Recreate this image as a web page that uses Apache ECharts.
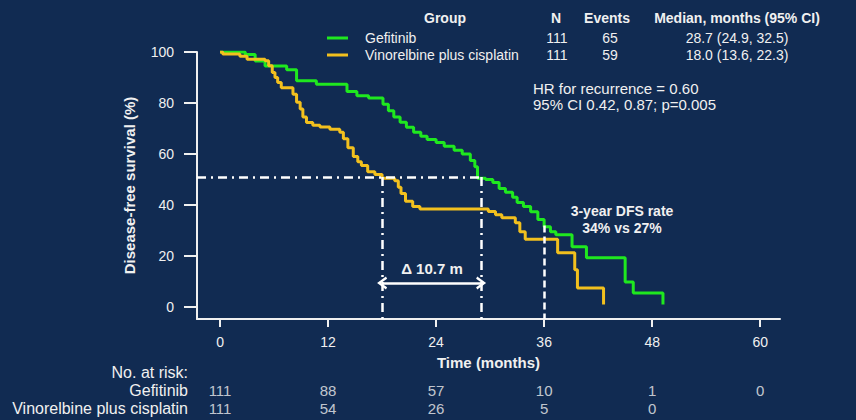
<!DOCTYPE html>
<html><head><meta charset="utf-8">
<script src="https://cdn.jsdelivr.net/npm/echarts@6/dist/echarts.min.js"></script>
<style>html,body{margin:0;padding:0;background:#112b52;}#c{width:856px;height:420px;}</style>
</head><body><div id="c"></div>
<script>
// Kaplan-Meier curves (months, % disease-free)
const gefTimes = [0,2.8,3.9,5.0,7.4,8.5,10.7,14.1,15.2,16.5,18.1,18.7,19.3,20.0,20.7,21.5,22.3,23.0,24.0,24.9,26.0,26.9,27.8,28.3,28.6,29.5,30.3,31.0,31.7,32.5,33.0,33.7,34.5,35.3,36.0,36.7,37.3,39.1,40.7,45.0,45.9,49.2];
const gefSurv  = [100,99,96.5,94.5,93,88.7,87.4,84.5,82.8,82,79.5,77,74.5,72.5,70.5,68.5,67,65.7,64.5,63,61.5,60,57.5,55,50.5,50,48.8,46.5,45,43,41,39.4,37.4,34.3,31.5,29.5,28.3,23.6,19.3,9.8,5.5,1];
const vinTimes = [0,0.3,2.2,3.0,5.0,5.4,5.8,6.1,6.4,6.8,8.1,8.5,8.9,9.2,9.6,10.3,11.1,12.2,13.3,13.7,14.2,14.8,15.3,15.7,16.4,17.2,18.0,19.4,19.8,20.1,20.6,21.4,22.2,29.8,30.6,31.3,32.8,33.3,33.9,37.5,39.4,39.7,42.6];
const vinSurv  = [100,99.2,98.3,97.2,96.6,94.6,92,90,88,86,83.4,80.3,77.6,74.5,72.4,71.3,70.6,69.7,68.5,66,62.5,59,57,55.5,53,52,50.5,49.5,47,44.5,41.5,39.4,38.4,37.5,36.2,35,33,29.5,26.6,21.3,14.6,7.5,1];

const xTicks = [0,12,24,36,48,60];
const yTicks = [0,20,40,60,80,100];

// header table
const groupNames = ['Gefitinib','Vinorelbine plus cisplatin'];
const groupN = [111,111];
const groupEvents = [65,59];
const groupMedian = ['28.7 (24.9, 32.5)','18.0 (13.6, 22.3)'];

// number at risk
const riskTimes = [0,12,24,36,48,60];
const riskGef = [111,88,57,10,1,0];
const riskVin = [111,54,26,5,0];

// reference lines
const medianLevel = 51;          // horizontal dash-dot level
const medianTimes = [18.0, 29.0]; // vertical dash-dot lines (as drawn)
const threeYear = 36;
const threeYearTop = 32;
const arrowLevel = 9.4;

const xMin = -2.56, xMax = 62.2, yMin = -4.7, yMax = 100;
const BG = '#112b52', TXT = '#f0f0f0', GREEN = '#1fe81f', YELLOW = '#f2c01e';
const FONT = '"Liberation Sans", Arial, sans-serif';

const chart = echarts.init(document.getElementById('c'), null, {renderer:'svg'});
const zip = (a,b) => a.map((t,i)=>[t,b[i]]);
const refStyle = {color:'#ffffff', width:2.5, type:[9,5,2,5]};
const chevron = 'path://M5,0 L10,8 L8.3,9 L5,3.6 L1.7,9 L0,8 Z';

const option = {
  backgroundColor: BG,
  animation: false,
  textStyle: {fontFamily: FONT},
  grid: [
    {left:197, right:76, top:52, bottom:101},
    {left:197, right:76, top:381, height:36}
  ],
  xAxis: [
    {type:'value', gridIndex:0, min:xMin, max:xMax,
     name:'Time (months)', nameLocation:'middle', nameGap:36,
     nameTextStyle:{color:TXT, fontSize:15, fontWeight:'bold'},
     axisLine:{onZero:false, lineStyle:{color:TXT, width:2}},
     axisTick:{show:true, customValues:xTicks, length:8, lineStyle:{color:TXT, width:2}},
     axisLabel:{customValues:xTicks, color:TXT, fontSize:14, margin:16},
     splitLine:{show:false}},
    {type:'value', gridIndex:1, min:xMin, max:xMax, show:false}
  ],
  yAxis: [
    {type:'value', gridIndex:0, min:yMin, max:yMax,
     name:'Disease-free survival (%)', nameLocation:'middle', nameGap:60,
     nameTextStyle:{color:TXT, fontSize:15, fontWeight:'bold'},
     axisLine:{onZero:false, lineStyle:{color:TXT, width:2}},
     axisTick:{show:true, customValues:yTicks, length:13, lineStyle:{color:TXT, width:2}},
     axisLabel:{customValues:yTicks, color:TXT, fontSize:14, margin:23},
     splitLine:{show:false}},
    {type:'category', gridIndex:1, data:groupNames, inverse:true,
     axisLine:{show:false}, axisTick:{show:false},
     axisLabel:{color:TXT, fontSize:16, margin:9, interval:0, hideOverlap:false}}
  ],
  series: [
    {type:'line', name:'Gefitinib', data:zip(gefTimes,gefSurv), step:'end', showSymbol:false,
     lineStyle:{color:GREEN, width:3}, itemStyle:{color:GREEN}, z:3},
    {type:'line', name:'Vinorelbine plus cisplatin', data:zip(vinTimes,vinSurv), step:'end', showSymbol:false,
     lineStyle:{color:YELLOW, width:3}, itemStyle:{color:YELLOW}, z:4},
    {type:'line', data:[], z:5,
     markLine:{silent:true, symbol:['none','none'], label:{show:false},
       data:[
         [{coord:[xMin,medianLevel], lineStyle:refStyle},{coord:[medianTimes[1],medianLevel]}],
         [{coord:[medianTimes[0],medianLevel], lineStyle:refStyle},{coord:[medianTimes[0],yMin]}],
         [{coord:[medianTimes[1],medianLevel], lineStyle:refStyle},{coord:[medianTimes[1],yMin]}],
         [{coord:[threeYear,threeYearTop], lineStyle:{color:'#ffffff', width:2.5, type:[7,4]}},{coord:[threeYear,yMin]}]
       ]}},
    {type:'line', data:[], z:6,
     markLine:{silent:true,
       symbol:[chevron, chevron], symbolSize:[13,10],
       label:{show:false},
       lineStyle:{color:'#ffffff', width:2.5, type:'solid'},
       itemStyle:{color:'#ffffff'},
       data:[[{coord:[medianTimes[0],arrowLevel]},{coord:[medianTimes[1],arrowLevel]}]]}},
    {type:'scatter', xAxisIndex:1, yAxisIndex:1, symbolSize:1, itemStyle:{color:'rgba(0,0,0,0)'},
     data:riskTimes.slice(0,riskGef.length).map((t,i)=>[t,groupNames[0],riskGef[i]]),
     label:{show:true, position:'inside', formatter:p=>String(p.value[2]), color:TXT, fontSize:15}},
    {type:'scatter', xAxisIndex:1, yAxisIndex:1, symbolSize:1, itemStyle:{color:'rgba(0,0,0,0)'},
     data:riskTimes.slice(0,riskVin.length).map((t,i)=>[t,groupNames[1],riskVin[i]]),
     label:{show:true, position:'inside', formatter:p=>String(p.value[2]), color:TXT, fontSize:15}}
  ],
  graphic: []
};

const hdr = (text,x,y,align,bold,size) => ({type:'text', silent:true, x:x, y:y,
  style:{text:text, fill:TXT, font:(bold?'bold ':'')+(size||14)+'px '+FONT, textAlign:align, textVerticalAlign:'middle'}});
const g = [];
g.push(hdr('Group',445,18,'center',true));
g.push(hdr('N',556,18,'center',true));
g.push(hdr('Events',607,18,'center',true));
g.push(hdr('Median, months (95% CI)',737,18,'center',true));
const rowY = [38,55], lineCol = [GREEN,YELLOW];
for (let i=0;i<2;i++){
  g.push({type:'line', silent:true, shape:{x1:327,y1:rowY[i],x2:348,y2:rowY[i]}, style:{stroke:lineCol[i], lineWidth:3}});
  g.push(hdr(groupNames[i],365,rowY[i],'left',false));
  g.push(hdr(String(groupN[i]),557,rowY[i],'center',false));
  g.push(hdr(String(groupEvents[i]),610,rowY[i],'center',false));
  g.push(hdr(groupMedian[i],737,rowY[i],'center',false));
}
g.push(hdr('HR for recurrence = 0.60',533,88,'left',false,15));
g.push(hdr('95% CI 0.42, 0.87; p=0.005',533,104,'left',false,15));
g.push(hdr('3-year DFS rate',622,211,'center',true,14));
g.push(hdr('34% vs 27%',622,228,'center',true,14));
g.push(hdr('\u0394 10.7 m',432,268,'center',true,15));
g.push(hdr('No. at risk:',188,372,'right',false,16));
option.graphic = g;
chart.setOption(option);
</script></body></html>
